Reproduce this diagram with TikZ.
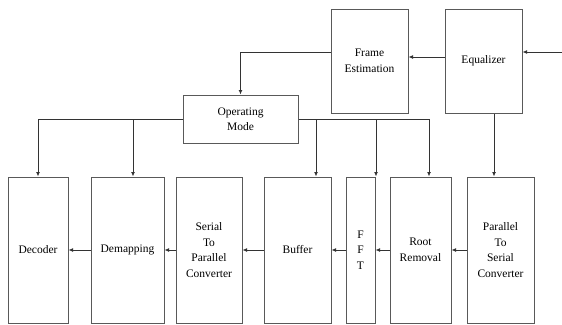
\documentclass[tikz,border=0pt]{standalone}
\usepackage{fontspec}
\setmainfont{Liberation Serif}
\usetikzlibrary{arrows.meta,positioning,calc}
\begin{document}
\begin{tikzpicture}[x=1pt,y=-1pt,
  blk/.style={draw=black!65,line width=1pt,fill=white,inner sep=0pt,align=center,
    font=\rmfamily\fontsize{11.5}{15.5}\selectfont},
  arr/.style={draw=black!80,line width=0.9pt,-{Latex[length=4.5pt,width=4pt]}},
  ln/.style={draw=black!80,line width=0.9pt}]
\useasboundingbox (0,0) rectangle (562,324);
% top row
\node[blk,minimum width=77pt,minimum height=104pt] (fe) at (369.5,61) {Frame\\Estimation};
\node[blk,minimum width=77pt,minimum height=104pt] (eq) at (483.5,61) {Equalizer};
\node[blk,minimum width=115pt,minimum height=48pt] (om) at (240.5,119) {Operating\\Mode};
% bottom row
\node[blk,minimum width=60pt,minimum height=146pt] (dec) at (38,250) {Decoder};
\node[blk,minimum width=73pt,minimum height=146pt] (dem) at (127.5,250) {Demapping};
\node[blk,minimum width=66pt,minimum height=146pt] (sp) at (209,250) {Serial\\To\\Parallel\\Converter};
\node[blk,minimum width=67pt,minimum height=146pt] (buf) at (297.5,250) {Buffer};
\node[blk,minimum width=29pt,minimum height=146pt] (fft) at (360.5,250) {F\\F\\T};
\node[blk,minimum width=61pt,minimum height=146pt] (rr) at (420.5,250) {Root\\Removal};
\node[blk,minimum width=67pt,minimum height=146pt] (ps) at (500.5,250) {Parallel\\To\\Serial\\Converter};
\coordinate (in) at (562,52);
% connectors
\draw[arr] (in) -- (in -| eq.east);
\draw[arr] ([yshift=4pt]eq.west) -- ([yshift=4pt]fe.east);
\draw[arr] (fe.west |- in) -| (om.north);
\draw[arr] (om.west) -| (dec.north);
\draw[arr] (om.west -| dem.north) ++(5.5,0) -- ([xshift=5.5pt]dem.north);
\draw[ln] (om.east) -- ([xshift=8.5pt]om.east -| rr.north);
\draw[arr] ([xshift=18.5pt]om.east -| buf.north) -- ([xshift=18.5pt]buf.north);
\draw[arr] ([xshift=15.5pt]om.east -| fft.north) -- ([xshift=15.5pt]fft.north);
\draw[arr] ([xshift=8.5pt]om.east -| rr.north) -- ([xshift=8.5pt]rr.north);
\draw[arr] ([xshift=10.5pt]eq.south) -- ([xshift=-6.5pt]ps.north);
\draw[arr] (ps.west) -- (rr.east);
\draw[arr] (rr.west) -- (fft.east);
\draw[arr] (fft.west) -- (buf.east);
\draw[arr] (buf.west) -- (sp.east);
\draw[arr] (sp.west) -- (dem.east);
\draw[arr] (dem.west) -- (dec.east);
\end{tikzpicture}
\end{document}
